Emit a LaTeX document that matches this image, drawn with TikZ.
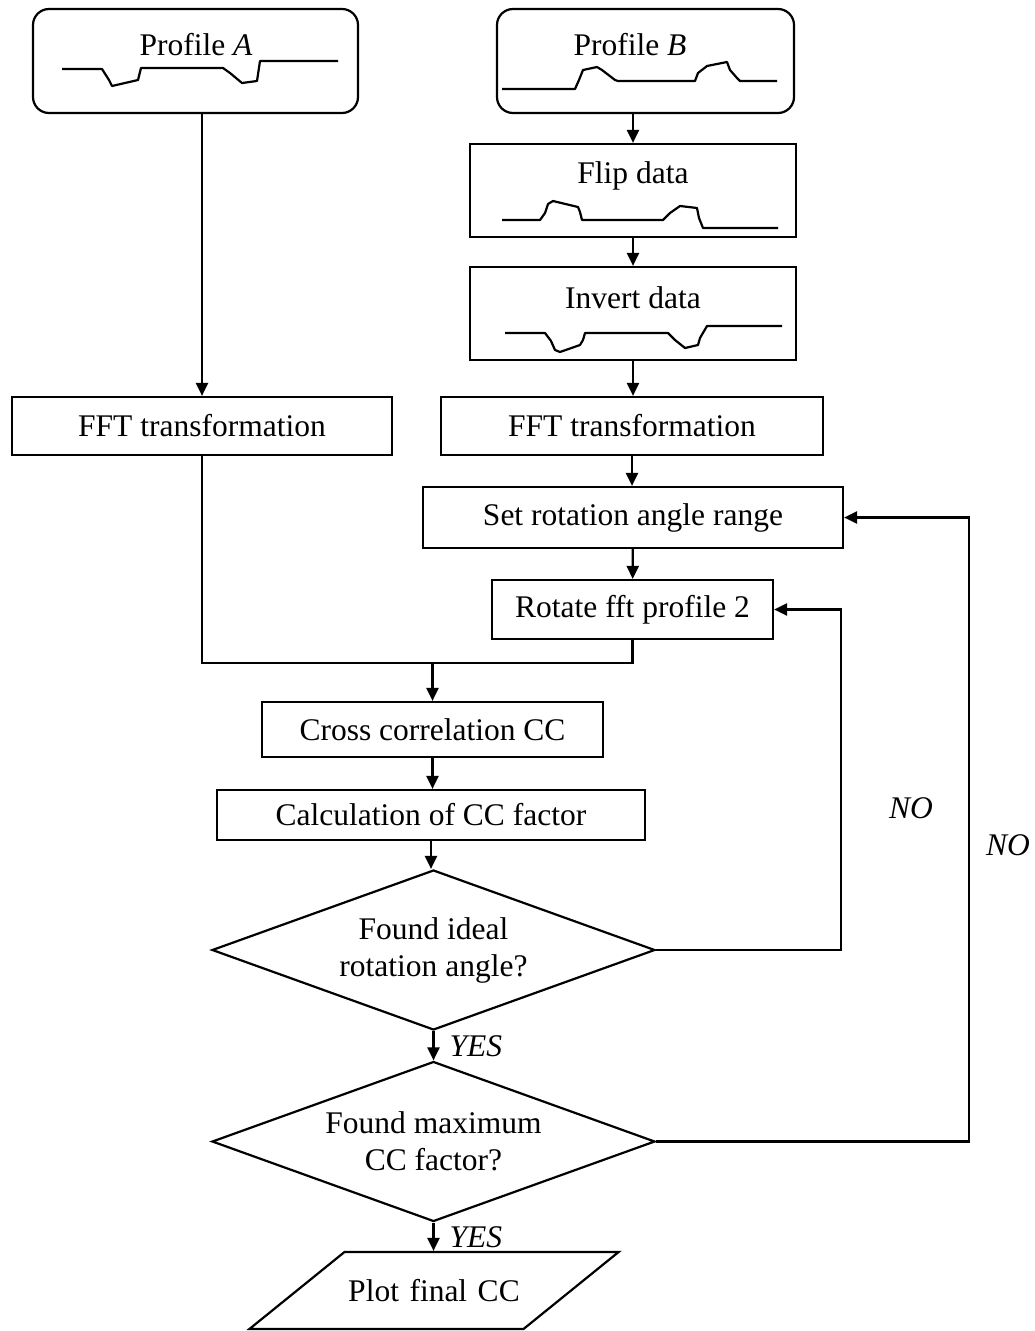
\documentclass[tikz,border=0pt]{standalone}
\usepackage{fontspec}
\setmainfont{Liberation Serif}
\usetikzlibrary{shapes.geometric,arrows.meta,calc}
\begin{document}
\begin{tikzpicture}[x=1pt,y=-1pt,line width=2.2pt,
  font=\fontsize{31.5}{37}\selectfont,
  box/.style={draw,rectangle,inner sep=0pt},
  pbox/.style={box,rounded corners=16pt},
  dec/.style={draw,diamond,aspect=2.77,inner sep=0pt,minimum width=443pt,minimum height=160pt,align=center},
  io/.style={draw,trapezium,trapezium left angle=39,trapezium right angle=141,text width=179pt,align=center,text height=22pt,text depth=0pt,inner xsep=0pt,inner ysep=27.5pt},
  arr/.style={-{Triangle[length=13pt,width=12pt]}},
  lbl/.style={font=\fontsize{31.5}{37}\selectfont\itshape,inner sep=2pt},
  wave/.style={line join=round}]
\useasboundingbox (0,0) rectangle (1035,1331);
\node[pbox,minimum width=325pt,minimum height=104pt] (profA) at (195.5,61) {};
\node (profAtxt) at (196,45) {Profile \textit{A}};
\node[pbox,minimum width=297pt,minimum height=104pt] (profB) at (645.5,61) {};
\node (profBtxt) at (630,45) {Profile \textit{B}};
\node[box,minimum width=326pt,minimum height=93pt] (flip) at (633,190.5) {};
\node (fliptxt) at (633,176) {Flip data};
\node[box,minimum width=326pt,minimum height=93pt] (invert) at (633,313.5) {};
\node (inverttxt) at (633,298) {Invert data};
\node[box,minimum width=380pt,minimum height=58pt] (fftA) at (202,426) {FFT transformation};
\node[box,minimum width=382pt,minimum height=58pt] (fftB) at (632,426) {FFT transformation};
\node[box,minimum width=420pt,minimum height=61pt] (setrot) at (633,517.5) {Set rotation angle range};
\node[box,minimum width=281pt,minimum height=59pt] (rotate) at (632.5,609.5) {Rotate fft profile 2};
\node[box,minimum width=341pt,minimum height=55pt] (cross) at (432.5,729.5) {Cross correlation CC};
\node[box,minimum width=428pt,minimum height=50pt] (calc) at (431,815) {Calculation of CC factor};
\node[dec] (dec1) at (433.5,950) {Found ideal\\rotation angle?};
\node[dec] (dec2) at (433.5,1141.5) {Found maximum\\CC factor?};
\node[io] (plot) at (434,1290.5) {Plot final CC};
\draw[wave] (62,69) -- (102,69) -- (109,80) -- (112,86) -- (138,80) -- (141,68) -- (223,68) -- (230,73) -- (242,83) -- (257,81) -- (260,61) -- (338,61);
\draw[wave] (502,89) -- (575,89) -- (579,80) -- (583,70) -- (597,67) -- (602,70) -- (615,80) -- (618,81) -- (695,81) -- (698,73) -- (707,66) -- (727,62) -- (730,70) -- (737,78) -- (740,81) -- (777,81);
\draw[wave] (502,220) -- (540,220) -- (545,213) -- (548,204) -- (553,201) -- (578,207) -- (580,212) -- (582,220) -- (663,220) -- (670,213) -- (680,206) -- (697,208) -- (699,218) -- (703,228) -- (778,228);
\draw[wave] (505,333) -- (545,333) -- (551,341) -- (555,350) -- (560,352) -- (580,345) -- (583,340) -- (585,333) -- (668,333) -- (675,340) -- (685,348) -- (698,345) -- (700,338) -- (707,326) -- (782,326);
\coordinate (jn) at ($(cross.north)+(0,-38)$);
\draw[arr] (fftA.north |- profA.south) -- (fftA.north);
\draw[arr] (flip.north |- profB.south) -- (flip.north);
\draw[arr] (flip) -- (invert);
\draw[arr] (invert.south) -- (invert.south |- fftB.north);
\draw[arr] (fftB.south) -- (fftB.south |- setrot.north);
\draw[arr] (setrot) -- (rotate);
\draw (fftA.south) |- (jn) -| (rotate.south);
\draw[arr] (jn) -- (cross.north);
\draw[arr] (cross.south) -- (cross.south |- calc.north);
\draw[arr] (calc.south) -- (calc.south |- dec1.north);
\draw[arr] (dec1.south) -- (dec2.north) node[lbl,midway,right=13pt] (yes1) {YES};
\draw[arr] (dec2.south) -- (dec2.south |- plot.north) node[lbl,midway,right=13pt] (yes2) {YES};
\draw[arr] (dec1.east) -- ++(185,0) |- (rotate.east);
\draw[arr] (dec2.east) -- ++(313,0) |- (setrot.east);
\node[lbl] (no1) at (911,808) {NO};
\node[lbl] (no2) at (1008,845) {NO};
\end{tikzpicture}
\end{document}
